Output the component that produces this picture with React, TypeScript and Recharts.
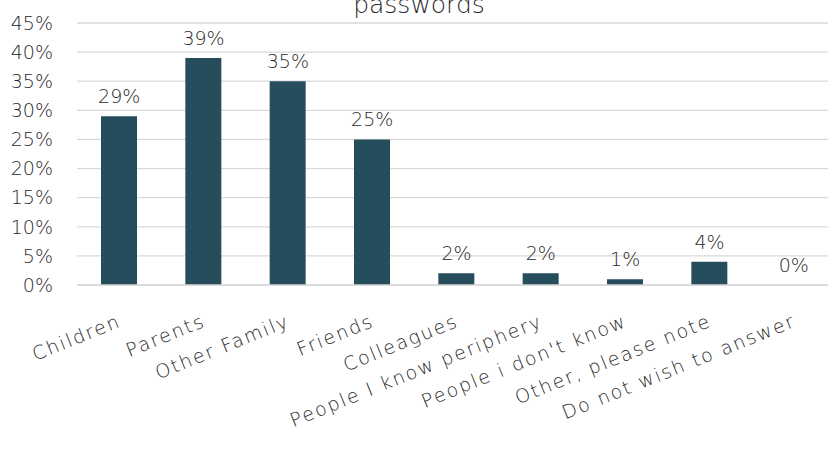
import React from "react";
import { ComposedChart, Bar, Line, XAxis, YAxis, CartesianGrid, LabelList } from "recharts";

const categories = [
  "Children",
  "Parents",
  "Other Family",
  "Friends",
  "Colleagues",
  "People I know periphery",
  "People i don't know",
  "Other, please note",
  "Do not wish to answer",
];
const values = [29, 39, 35, 25, 2, 2, 1, 4, 0];
const yTicks = [0, 5, 10, 15, 20, 25, 30, 35, 40, 45];
const titleText = "passwords";

const data = categories.map((name, i) => ({ name, value: values[i] }));

const FONT = "'DejaVu Sans', sans-serif";
const WEIGHT = 200;
const TEXT = "#2a2a2a";

const XTick = (props: any) => {
  const { x, y, payload } = props;
  return (
    <g transform={`translate(${x + 3},${y + 41})`}>
      <text
        textAnchor="end"
        transform="rotate(-22)"
        fontFamily={FONT}
        fontWeight={WEIGHT}
        fontSize={19}
        letterSpacing={1.8}
        fill={TEXT}
      >
        {payload.value}
      </text>
    </g>
  );
};

export default function App() {
  return (
    <div
      style={{
        position: "absolute",
        left: 0,
        top: 0,
        width: 828,
        height: 450,
        overflow: "hidden",
        background: "#fff",
      }}
    >
      <ComposedChart
        width={840}
        height={450}
        data={data}
        margin={{ top: 23, right: 4, left: 0, bottom: 0 }}
        barCategoryGap={0}
      >
        <CartesianGrid vertical={false} stroke="#d9d9d9" strokeWidth={1.3} />
        <XAxis
          dataKey="name"
          interval={0}
          height={165}
          tickLine={false}
          tickSize={0}
          tickMargin={0}
          axisLine={{ stroke: "#d9d9d9", strokeWidth: 1.3 }}
          tick={<XTick />}
        />
        <YAxis
          width={77}
          domain={[0, 45]}
          ticks={yTicks}
          interval={0}
          axisLine={false}
          tickLine={false}
          tickSize={0}
          tickMargin={24}
          tickFormatter={(v: number) => `${v}%`}
          tick={{ fontFamily: FONT, fontWeight: WEIGHT, fontSize: 19, fill: TEXT }}
        />
        <Bar dataKey="value" fill="#264d5b" barSize={36} isAnimationActive={false} />
        <Line
          dataKey="value"
          stroke="none"
          dot={false}
          activeDot={false}
          legendType="none"
          isAnimationActive={false}
        >
          <LabelList
            dataKey="value"
            position="top"
            offset={13}
            formatter={(v: any) => `${v}%`}
            style={{ fontFamily: FONT, fontWeight: WEIGHT, fontSize: 19, fill: TEXT }}
          />
        </Line>
      </ComposedChart>
      <svg
        width={828}
        height={40}
        style={{ position: "absolute", left: 0, top: 0, pointerEvents: "none" }}
      >
        <text
          x={419}
          y={13}
          textAnchor="middle"
          fontFamily={FONT}
          fontWeight={WEIGHT}
          fontSize={25}
          fill={TEXT}
        >
          {titleText}
        </text>
      </svg>
    </div>
  );
}
